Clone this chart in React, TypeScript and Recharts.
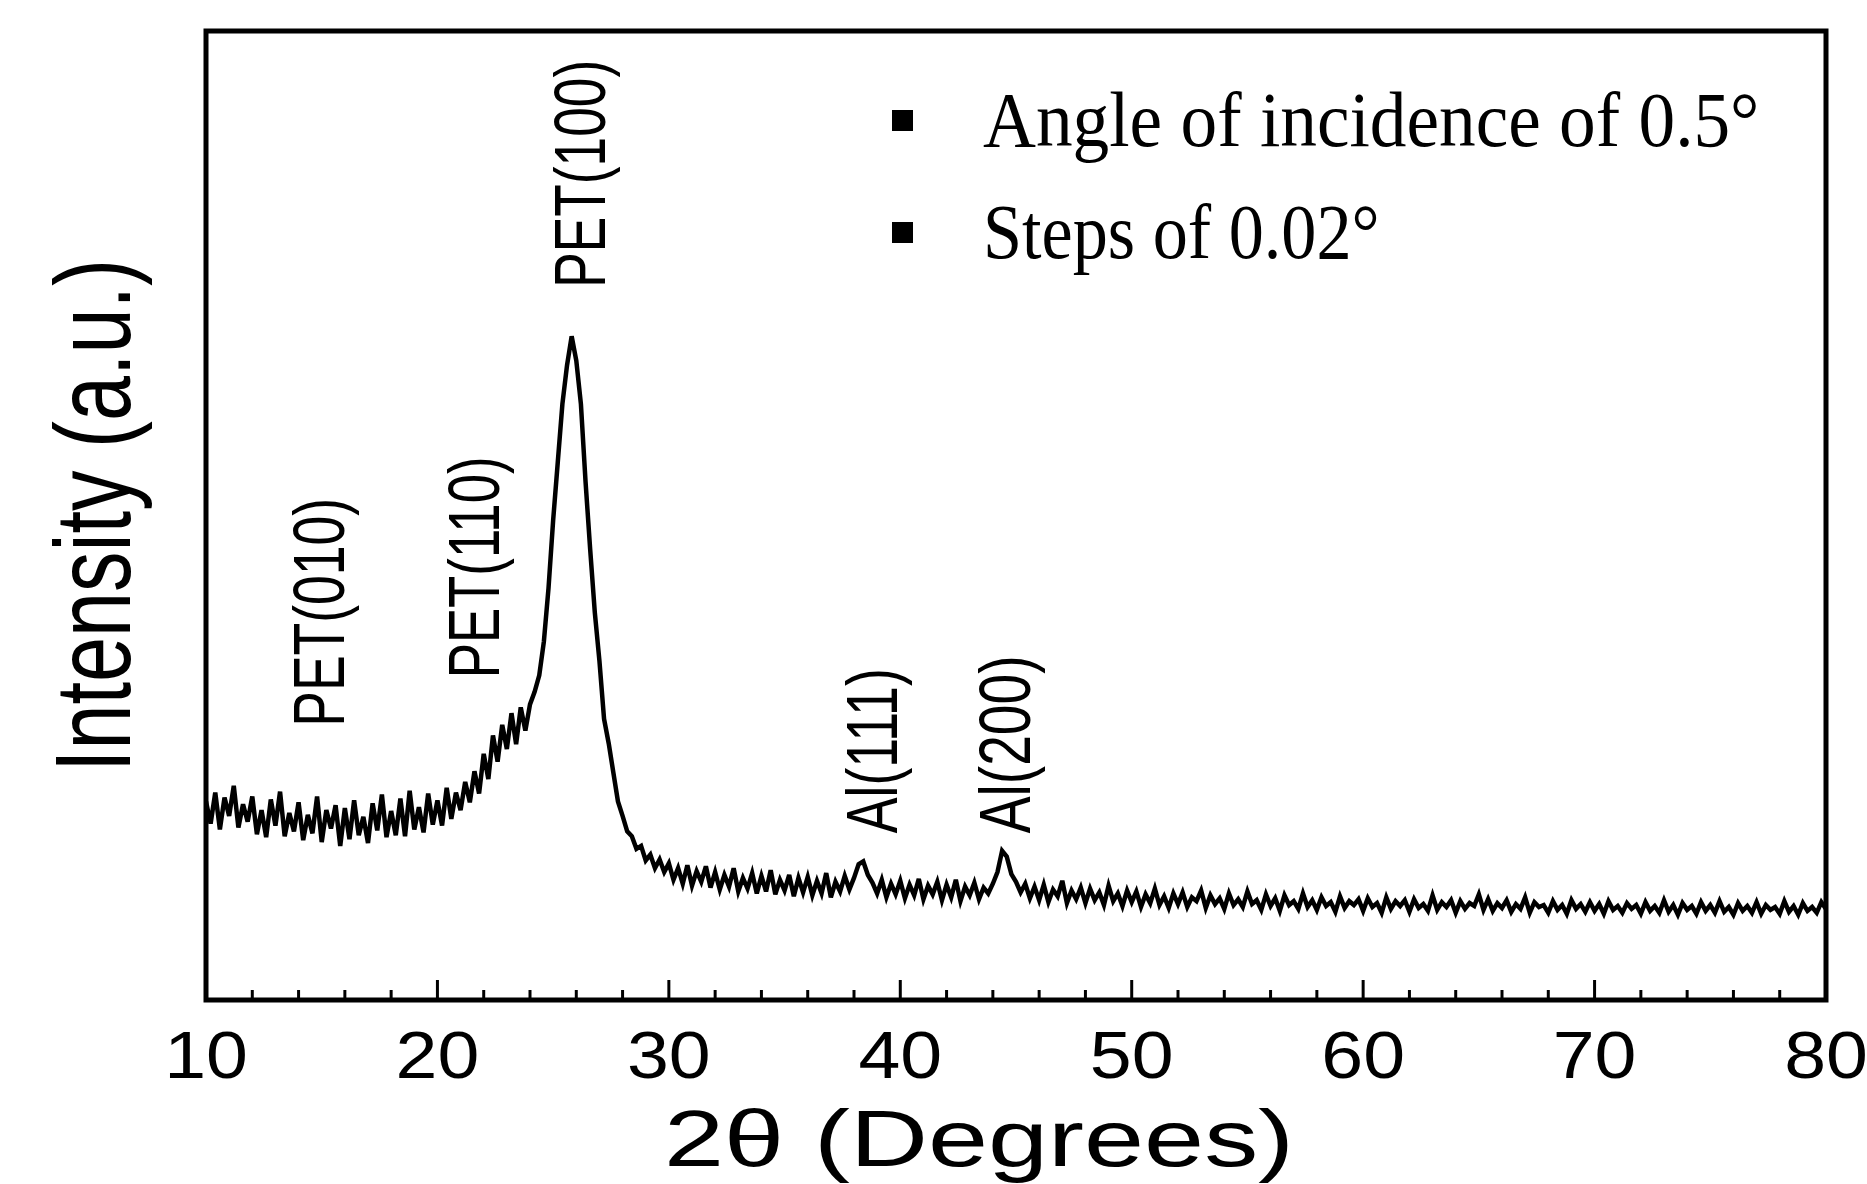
import React from 'react';
import { LineChart, Line, XAxis, YAxis, ReferenceArea, ReferenceDot, Legend } from 'recharts';

// scan starts at 10° and is sampled here every 0.2°
const scanStart = 10;
const scanStep = 0.2;

// intensity (a.u., 0-100 of the frame height), 10 values per 2°
const intensity = [
  20.5, 18.2, 21.4, 17.6, 20.9, 19.0, 22.1, 17.8, 20.2, 18.4,
  21.0, 17.1, 19.6, 16.8, 20.7, 18.0, 21.5, 16.9, 19.3, 17.4,
  20.4, 16.5, 19.1, 17.2, 21.0, 16.3, 19.6, 17.7, 20.1, 15.9,
  19.8, 16.6, 20.6, 17.0, 18.9, 16.2, 20.3, 17.5, 21.2, 16.8,
  19.5, 17.0, 20.8, 16.9, 21.6, 17.6, 19.9, 17.3, 21.3, 18.1,
  20.6, 18.0, 21.9, 18.7, 21.4, 19.6, 22.5, 20.4, 23.6, 21.3,
  25.4, 22.8, 27.3, 24.6, 28.4, 25.9, 29.6, 26.4, 30.2, 27.8,
  30.5, 31.8, 33.5, 37.0, 42.5, 49.5, 55.5, 61.5, 65.5, 68.5,
  66.0, 61.5, 53.5, 46.5, 40.0, 35.0, 29.0, 26.5, 23.5, 20.5,
  19.0, 17.4, 16.9, 15.6, 15.9, 14.4, 15.0, 13.6, 14.5, 13.2,
  14.1, 12.4, 13.6, 12.0, 13.9, 11.8, 13.3, 12.2, 13.8, 11.6,
  13.2, 11.4, 12.9, 11.7, 13.6, 11.2, 12.6, 11.5, 13.1, 11.0,
  12.8, 11.2, 13.4, 10.9, 12.4, 11.3, 12.9, 10.7, 12.6, 11.1,
  12.7, 10.8, 12.3, 11.0, 13.1, 10.6, 12.2, 11.2, 12.8, 11.4,
  12.6, 14.0, 14.3, 12.9, 12.1, 11.0, 12.4, 10.6, 12.0, 10.9,
  12.3, 10.5, 11.9, 10.8, 12.5, 10.4, 11.8, 10.9, 12.2, 10.3,
  11.9, 10.6, 12.4, 10.2, 11.7, 10.8, 12.1, 10.4, 11.6, 11.0,
  12.0, 13.2, 15.4, 14.8, 13.0, 12.2, 11.1, 12.0, 10.5, 11.7,
  10.3, 11.9, 10.1, 11.4, 10.7, 12.3, 10.0, 11.3, 10.4, 11.6,
  10.0, 11.5, 10.3, 11.1, 9.8, 11.8, 10.2, 11.0, 9.7, 11.3,
  10.1, 11.2, 9.6, 10.9, 10.0, 11.5, 9.8, 10.7, 9.5, 11.0,
  9.9, 11.1, 9.6, 10.6, 10.2, 11.3, 9.5, 10.8, 9.9, 10.5,
  9.4, 11.0, 9.8, 10.4, 9.6, 11.2, 9.9, 10.3, 9.3, 10.9,
  9.7, 10.5, 9.2, 10.8, 9.8, 10.2, 9.4, 11.0, 9.6, 10.3,
  9.3, 10.6, 9.7, 10.1, 9.1, 10.7, 9.5, 10.2, 9.8, 10.4,
  9.2, 10.5, 9.6, 10.0, 9.0, 10.6, 9.4, 10.2, 9.7, 10.3,
  9.1, 10.4, 9.5, 9.9, 9.2, 10.8, 9.3, 10.1, 9.6, 10.3,
  9.0, 10.2, 9.4, 10.0, 9.7, 10.9, 9.3, 10.4, 9.2, 10.0,
  9.5, 10.3, 9.1, 9.9, 9.4, 10.6, 9.0, 10.1, 9.6, 9.8,
  9.0, 10.2, 9.3, 9.8, 8.9, 10.3, 9.4, 9.9, 9.1, 10.1,
  9.2, 9.9, 8.9, 10.2, 9.3, 9.7, 9.0, 10.0, 9.4, 9.8,
  8.9, 10.1, 9.2, 9.7, 9.0, 10.3, 9.1, 9.8, 8.8, 10.0,
  9.3, 9.7, 8.9, 10.1, 9.2, 9.8, 9.0, 10.2, 9.1, 9.6,
  8.8, 10.0, 9.2, 9.7, 9.0, 10.1, 8.9, 9.8, 9.3, 9.6,
  8.9, 10.2, 9.1, 9.7, 8.8, 10.0, 9.2, 9.6, 9.0, 10.1,
  9.4,
];

const xTicks = [10, 12, 14, 16, 18, 20, 22, 24, 26, 28, 30, 32, 34, 36, 38, 40, 42, 44, 46, 48, 50,
  52, 54, 56, 58, 60, 62, 64, 66, 68, 70, 72, 74, 76, 78, 80];
const labelledTicks = [10, 20, 30, 40, 50, 60, 70, 80];

// peak labels: text, 2θ of the text baseline, intensity where the text starts
const peakNames = ['PET(010)', 'PET(110)', 'PET(100)', 'Al(111)', 'Al(200)'];
const peakNameTheta = [15.96, 22.66, 27.24, 39.86, 45.6];
const peakNameIntensity = [28.2, 33.2, 73.5, 17.2, 17.2];
// horizontal squeeze of each label, the source font is condensed
const peakNameSqueeze = [0.743, 0.733, 0.74, 0.746, 0.767];

const legendNotes = ['Angle of incidence of 0.5°', 'Steps of 0.02°'];
const legendNoteSqueeze = [0.94, 0.9];

const data = intensity.map((v, i) => ({
  twoTheta: Math.round((scanStart + i * scanStep) * 100) / 100,
  intensity: v,
}));

const sans = '"Liberation Sans", Arial, sans-serif';
const serif = '"Liberation Serif", "Times New Roman", serif';

const XTick = (props: any) => {
  const { x, y, payload } = props;
  const major = labelledTicks.includes(payload.value);
  return (
    <g>
      <line x1={x} y1={y} x2={x} y2={y - (major ? 20 : 10)} stroke="#000" strokeWidth={3} />
      {major && (
        <text transform={`translate(${x} ${y + 78}) scale(1.14 1)`} textAnchor="middle"
          fontFamily={sans} fontSize={66} fill="#000">
          {payload.value}
        </text>
      )}
    </g>
  );
};

const XTitle = (props: any) => {
  const vb = props.viewBox || { x: 206, y: 1000, width: 1620, height: 184 };
  return (
    <text transform={`translate(${vb.x + 773} ${vb.y + 166}) scale(1.35 1)`} textAnchor="middle"
      fontFamily={sans} fontSize={80} fill="#000">
      2θ (Degrees)
    </text>
  );
};

const YTitle = (props: any) => {
  const vb = props.viewBox || { x: 6, y: 31, width: 200, height: 969 };
  const cx = vb.x + vb.width - 76;
  const cy = vb.y + vb.height / 2;
  return (
    <text transform={`translate(${cx} ${cy}) rotate(-90) scale(0.75 1)`} textAnchor="middle"
      fontFamily={sans} fontSize={108} fill="#000">
      Intensity (a.u.)
    </text>
  );
};

const peakShape = (name: string, squeeze: number) => (p: any) => (
  <text transform={`translate(${p.cx} ${p.cy}) rotate(-90) scale(${squeeze} 1)`} fontFamily={sans}
    fontSize={72} fill="#000">
    {name}
  </text>
);

const NotesBox = () => (
  <svg width={960} height={260} style={{ display: 'block' }}>
    {legendNotes.map((note, i) => (
      <g key={note}>
        <rect x={12} y={70 + i * 112} width={21} height={21} fill="#000" />
        <text transform={`translate(103 ${106 + i * 112}) scale(${legendNoteSqueeze[i]} 1)`}
          fontFamily={serif} fontSize={78} fill="#000">
          {note}
        </text>
      </g>
    ))}
  </svg>
);

export default function App() {
  return (
    <div style={{ position: 'absolute', left: 0, top: 0, background: '#fff' }}>
      <LineChart width={1867} height={1184} data={data} margin={{ top: 31, right: 41, bottom: 0, left: 6 }}>
        <XAxis dataKey="twoTheta" type="number" domain={[10, 80]} ticks={xTicks} interval={0}
          tickSize={0} tickMargin={0} axisLine={false} tickLine={false} tick={<XTick />}
          height={184} label={<XTitle />} allowDataOverflow />
        <YAxis type="number" domain={[0, 100]} width={200} tick={false} axisLine={false}
          tickLine={false} label={<YTitle />} allowDataOverflow />
        <Line dataKey="intensity" type="linear" stroke="#000" strokeWidth={4.5} dot={false}
          isAnimationActive={false} />
        <ReferenceArea x1={10} x2={80} y1={0} y2={100} fill="none" fillOpacity={0}
          stroke="#000" strokeWidth={5} />
        {peakNames.map((name, i) => (
          <ReferenceDot key={name} x={peakNameTheta[i]} y={peakNameIntensity[i]} r={0}
            shape={peakShape(name, peakNameSqueeze[i])} />
        ))}
        <Legend layout="horizontal" verticalAlign="middle" align="center"
          wrapperStyle={{ left: 880, top: 40, width: 960, height: 260 }} content={() => <NotesBox />} />
      </LineChart>
    </div>
  );
}
